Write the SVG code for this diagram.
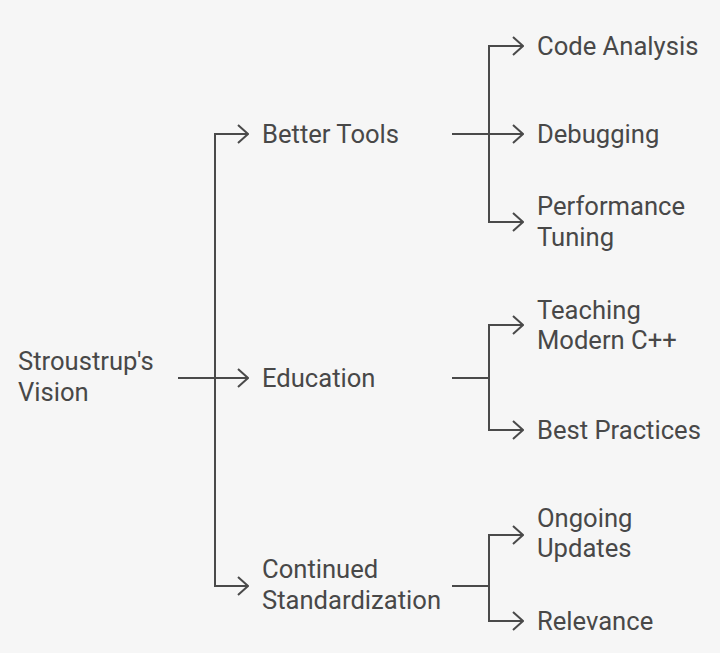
<svg xmlns="http://www.w3.org/2000/svg" width="720" height="653" viewBox="0 0 720 653">
<defs>
<style>
text{font-family:Roboto,"Liberation Sans",sans-serif;font-size:25.6px;fill:#484848;}
.c{fill:none;stroke:#4a4a4a;stroke-width:2;}
</style>
<marker id="a" viewBox="0 0 12 20" refX="11" refY="10" markerWidth="12" markerHeight="20" markerUnits="userSpaceOnUse" orient="auto">
<path d="M1,1 L11,10 L1,19" fill="none" stroke="#4a4a4a" stroke-width="2"/>
</marker>
</defs>
<rect width="720" height="653" fill="#f6f6f6"/>
<g id="connectors">
<path class="c" d="M178,378 H248" marker-end="url(#a)"/>
<path class="c" d="M215,378 V134 H248" marker-end="url(#a)"/>
<path class="c" d="M215,378 V586 H248" marker-end="url(#a)"/>
<path class="c" d="M452,134 H523" marker-end="url(#a)"/>
<path class="c" d="M489,134 V46 H523" marker-end="url(#a)"/>
<path class="c" d="M489,134 V222 H523" marker-end="url(#a)"/>
<path class="c" d="M452,378 H489 V325 H523" marker-end="url(#a)"/>
<path class="c" d="M489,378 V430 H523" marker-end="url(#a)"/>
<path class="c" d="M452,586 H489 V535 H523" marker-end="url(#a)"/>
<path class="c" d="M489,586 V621 H523" marker-end="url(#a)"/>
</g>
<g id="root"><text x="18" y="370">Stroustrup's</text><text x="18" y="401">Vision</text></g>
<g id="better-tools"><text x="262" y="143">Better Tools</text></g>
<g id="education"><text x="262" y="387">Education</text></g>
<g id="continued-standardization"><text x="262" y="578">Continued</text><text x="262" y="609">Standardization</text></g>
<g id="code-analysis"><text x="537" y="55">Code Analysis</text></g>
<g id="debugging"><text x="537" y="143">Debugging</text></g>
<g id="performance-tuning"><text x="537" y="215">Performance</text><text x="537" y="246">Tuning</text></g>
<g id="teaching-modern-cpp"><text x="537" y="319">Teaching</text><text x="537" y="349">Modern C++</text></g>
<g id="best-practices"><text x="537" y="439">Best Practices</text></g>
<g id="ongoing-updates"><text x="537" y="527">Ongoing</text><text x="537" y="557">Updates</text></g>
<g id="relevance"><text x="537" y="630">Relevance</text></g>
</svg>
